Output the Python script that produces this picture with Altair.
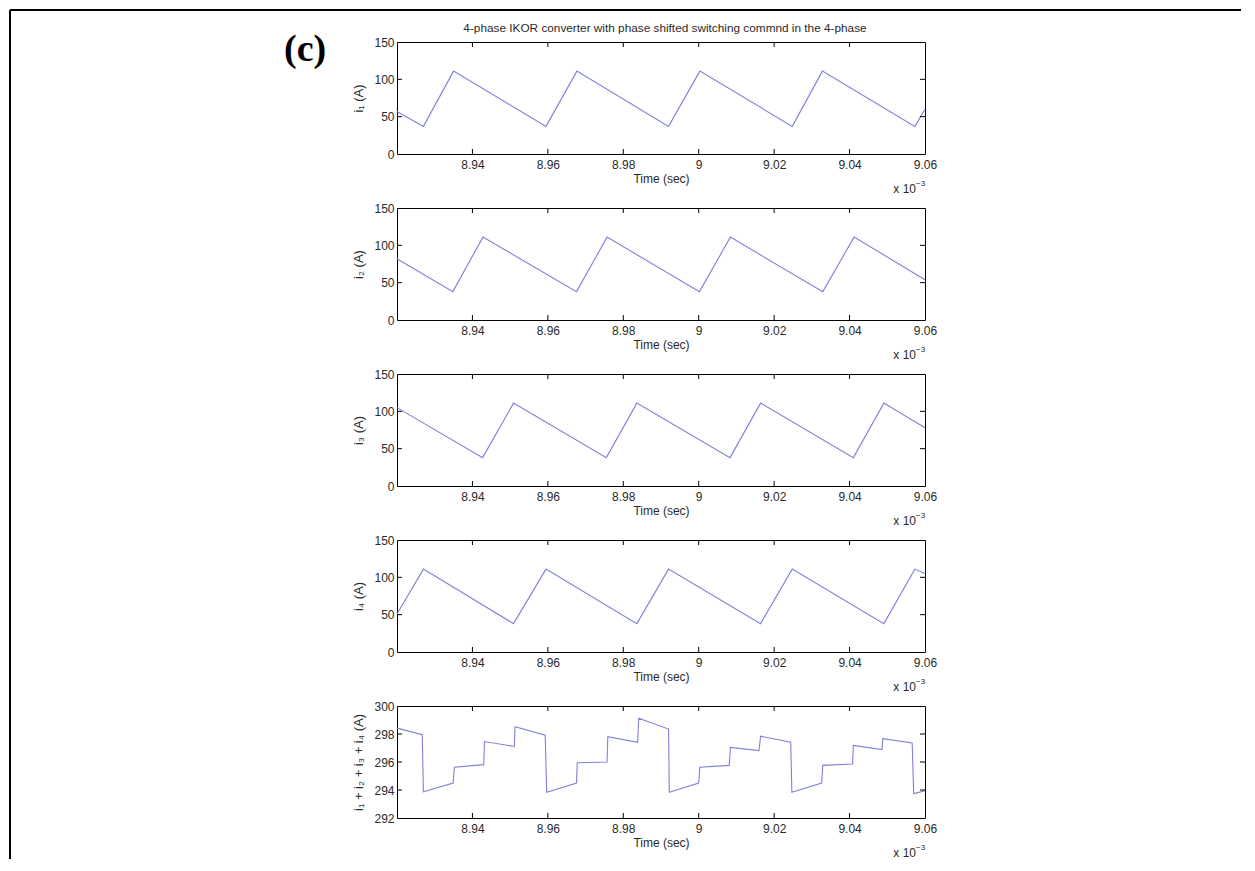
import altair as alt
import pandas as pd

# ---------------- data ----------------
X_DOMAIN = [8.92, 9.06]
X_TICKS = [8.94, 8.96, 8.98, 9.0, 9.02, 9.04, 9.06]

t1 = [8.92, 8.927, 8.935, 8.9595, 8.9677, 8.992, 9.0003, 9.0248, 9.0328, 9.0573, 9.06]
i1 = [57, 37, 111, 37, 111, 37, 111, 37, 111, 37, 60]

t2 = [8.92, 8.9348, 8.9428, 8.9676, 8.9757, 9.0002, 9.0084, 9.0329, 9.0412, 9.06]
i2 = [82, 38, 111, 38, 111, 38, 111, 38, 111, 54]

t3 = [8.92, 8.9427, 8.9509, 8.9755, 8.9836, 9.0083, 9.0164, 9.041, 9.0491, 9.06]
i3 = [105, 38, 111, 38, 111, 38, 111, 38, 111, 78]

t4 = [8.92, 8.927, 8.9509, 8.9595, 8.9836, 8.992, 9.0164, 9.0248, 9.0491, 9.0573, 9.06]
i4 = [51, 111, 38, 111, 38, 111, 38, 111, 38, 111, 105]

ts = [8.92, 8.9267, 8.9270, 8.9349, 8.9352, 8.9430, 8.9432, 8.9511, 8.9513, 8.9593,
      8.9597, 8.9676, 8.9678, 8.9757, 8.9759, 8.9838, 8.9841, 8.9920, 8.9922, 9.0000,
      9.0003, 9.0081, 9.0084, 9.0160, 9.0164, 9.0244, 9.0247, 9.0326, 9.0329, 9.0408,
      9.0410, 9.0486, 9.0488, 9.0566, 9.0570, 9.0573, 9.06]
isum = [298.42, 297.95, 293.88, 294.49, 295.62, 295.81, 297.46, 297.11, 298.52, 297.91,
        293.84, 294.49, 295.95, 296.0, 297.81, 297.41, 299.13, 298.35, 293.84, 294.49,
        295.62, 295.76, 297.04, 296.82, 297.84, 297.41, 293.84, 294.49, 295.76, 295.86,
        297.18, 296.89, 297.67, 297.36, 293.74, 293.76, 293.95]

Y_TICKS_I = [0, 50, 100, 150]
Y_TICKS_SUM = [292, 294, 296, 298, 300]

TITLE = "4-phase IKOR converter with phase shifted switching commnd in the 4-phase"
YTITLES = ["i\u2081 (A)", "i\u2082 (A)", "i\u2083 (A)", "i\u2084 (A)",
           "i\u2081 + i\u2082 + i\u2083 + i\u2084 (A)"]

# ---------------- layout / style ----------------
W, H = 528, 112
LINE_COLOR = "#8080dc"
FONT = "Liberation Sans"
TXT = "#2a2a2a"
TICK = 5


def panel(t, v, ytitle, ydomain, yticks, first=False):
    df = pd.DataFrame({"t": t, "v": v})
    x = alt.X("t:Q", scale=alt.Scale(domain=X_DOMAIN, nice=False, zero=False),
              axis=alt.Axis(values=X_TICKS, format="~g", title="Time (sec)"))
    y = alt.Y("v:Q", scale=alt.Scale(domain=ydomain, nice=False, zero=False),
              axis=alt.Axis(values=yticks, title=ytitle))
    line = alt.Chart(df).mark_line(color=LINE_COLOR, strokeWidth=1.1).encode(x=x, y=y)

    xt = alt.Chart(pd.DataFrame({"t": X_TICKS[:-1]}))
    xt_top = xt.mark_rule(color="black").encode(x=x, y=alt.value(0), y2=alt.value(TICK))
    xt_bot = xt.mark_rule(color="black").encode(x=x, y=alt.value(H - TICK), y2=alt.value(H))
    yt = alt.Chart(pd.DataFrame({"v": yticks[1:-1]}))
    yt_left = yt.mark_rule(color="black").encode(y=y, x=alt.value(0), x2=alt.value(TICK))
    yt_right = yt.mark_rule(color="black").encode(y=y, x=alt.value(W - TICK), x2=alt.value(W))

    one = alt.Chart(pd.DataFrame({"a": [0]}))
    x10 = one.mark_text(text="x 10", font=FONT, fontSize=12, color=TXT, align="right",
                        baseline="middle").encode(x=alt.value(W - 9), y=alt.value(H + 35))
    exp = one.mark_text(text="\u22123", font=FONT, fontSize=8, color=TXT, align="left",
                        baseline="middle").encode(x=alt.value(W - 9), y=alt.value(H + 30))

    layers = [line, xt_top, xt_bot, yt_left, yt_right, x10, exp]
    if first:
        title = one.mark_text(text=TITLE, font=FONT, fontSize=11.8, color=TXT, align="center",
                              baseline="alphabetic").encode(x=alt.value(W / 2 + 4), y=alt.value(-10))
        lab = one.mark_text(text="(c)", font="Liberation Serif", fontWeight="bold", fontSize=38,
                            color="black", align="left", baseline="alphabetic"
                            ).encode(x=alt.value(-113), y=alt.value(19))
        border_left = one.mark_rule(color="black", strokeWidth=2).encode(
            x=alt.value(-387), y=alt.value(-32), y2=alt.value(817))
        border_top = one.mark_rule(color="black", strokeWidth=2).encode(
            x=alt.value(-387), x2=alt.value(844), y=alt.value(-32))
        layers += [title, lab, border_left, border_top]
    return alt.layer(*layers).properties(width=W, height=H)


panels = [
    panel(t1, i1, YTITLES[0], [0, 150], Y_TICKS_I, first=True),
    panel(t2, i2, YTITLES[1], [0, 150], Y_TICKS_I),
    panel(t3, i3, YTITLES[2], [0, 150], Y_TICKS_I),
    panel(t4, i4, YTITLES[3], [0, 150], Y_TICKS_I),
    panel(ts, isum, YTITLES[4], [292, 300], Y_TICKS_SUM),
]

chart = alt.vconcat(*panels, spacing=54, bounds="flush").properties(
    padding={"left": 0, "top": 0, "right": 0, "bottom": 0}
).configure_view(
    stroke="black", strokeWidth=1
).configure_axis(
    grid=False, domain=False, ticks=False,
    labelFont=FONT, labelFontSize=12, labelColor=TXT, labelFlush=False, labelOverlap=False,
    titleFont=FONT, titleFontSize=12, titleFontWeight="normal", titleColor=TXT,
).configure_axisX(
    labelPadding=5, titlePadding=3
).configure_axisY(
    labelPadding=3, titlePadding=8, titleFontSize=13
)

chart.save("out.html", embed_options={"renderer": "svg", "actions": False})
